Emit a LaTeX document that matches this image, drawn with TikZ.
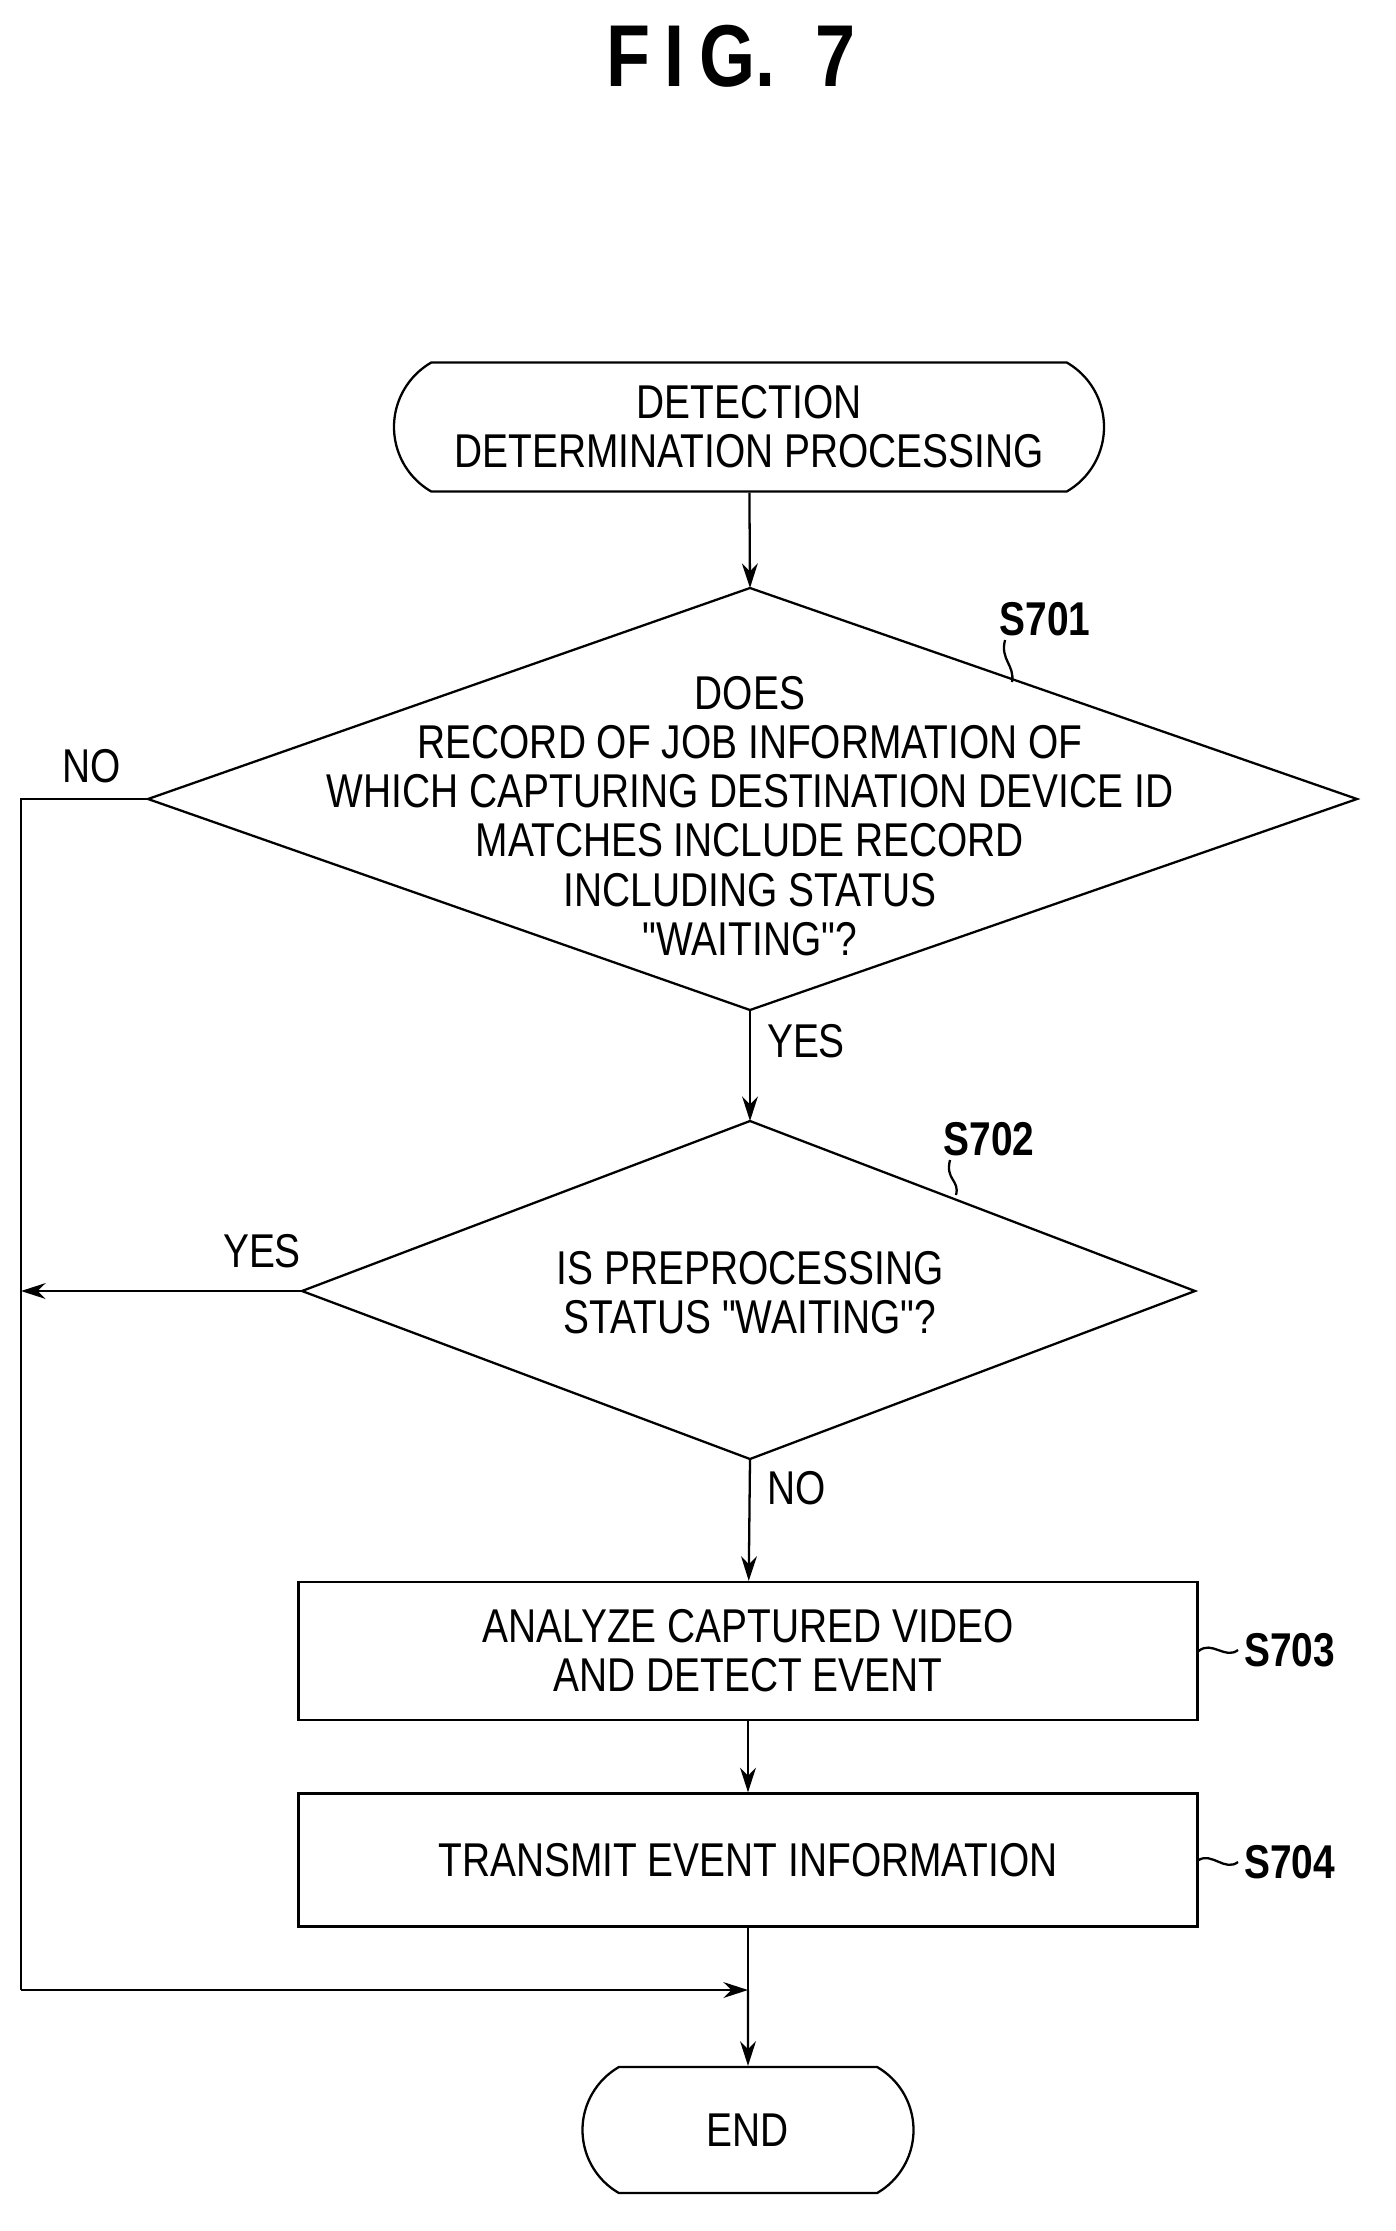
\documentclass[tikz,border=0pt]{standalone}
\usepackage{fontspec}
\setmainfont{Liberation Sans}[FakeStretch=0.82,Ligatures=TeXOff]
\usetikzlibrary{arrows.meta,shapes.misc}
\begin{document}
\begin{tikzpicture}[x=0.02cm,y=-0.02cm,
  line/.style={line width=1.3pt},
  arr/.style={line, -{Stealth[length=14pt,width=9pt]}},
  txt/.style={font=\fontsize{27}{32}\selectfont, align=center},
  lbl/.style={font=\fontsize{27}{32}\selectfont\bfseries},
  term/.style={line, draw, rounded rectangle, rounded rectangle arc length=120, minimum width=710*0.02cm, minimum height=129*0.02cm, inner xsep=0pt, txt},
  box/.style={line, draw, minimum width=899*0.02cm, txt}]
\useasboundingbox (0,0) rectangle (1396,2231);
\node[font=\fontsize{50}{60}\selectfont\bfseries] (title) at (731,56) {F\,I\,G.\ \ 7};
\node[term] (start) at (749,427) {DETECTION\\[-4pt]DETERMINATION PROCESSING};
% diamond 1
\coordinate (d1t) at (750,588); \coordinate (d1b) at (750,1010);
\coordinate (d1l) at (148,799); \coordinate (d1r) at (1357,799);
\draw[line] (d1t)--(d1r)--(d1b)--(d1l)--cycle;
\node[txt] (d1) at (750,816) {DOES\\[-4pt]RECORD OF JOB INFORMATION OF\\[-4pt]WHICH CAPTURING DESTINATION DEVICE ID\\[-4pt]MATCHES INCLUDE RECORD\\[-4pt]INCLUDING STATUS\\[-4pt]"WAITING"?};
% diamond 2
\coordinate (d2t) at (750,1121); \coordinate (d2b) at (750,1459);
\coordinate (d2l) at (302,1291); \coordinate (d2r) at (1195,1291);
\draw[line] (d2t)--(d2r)--(d2b)--(d2l)--cycle;
\node[txt] (d2) at (750,1293) {IS PREPROCESSING\\[-4pt]STATUS "WAITING"?};
\node[box, minimum height=138*0.02cm] (b3) at (748,1651) {ANALYZE CAPTURED VIDEO\\[-4pt]AND DETECT EVENT};
\node[box, minimum height=133*0.02cm] (b4) at (748,1860) {TRANSMIT EVENT INFORMATION};
\node[term, minimum width=331*0.02cm, minimum height=126*0.02cm] (end) at (748,2130) {END};
% labels
\node[lbl] (l1) at (1045,619) {S701};
\draw[line] (1005,640) .. controls (1000,660) and (1015,665) .. (1012,682);
\node[lbl] (l2) at (989,1139) {S702};
\draw[line] (950,1160) .. controls (945,1180) and (960,1180) .. (956,1195);
\node[lbl, anchor=west] (l3) at (1238,1650) {S703};
\draw[line] (b3.east) .. controls (1212,1640) and (1225,1660) .. (1238,1650);
\node[lbl, anchor=west] (l4) at (1238,1862) {S704};
\draw[line] (b4.east) .. controls (1212,1852) and (1225,1872) .. (1238,1862);
\node[txt] (no1) at (92,766) {NO};
\node[txt] (yes1) at (806,1041) {YES};
\node[txt] (yes2) at (262,1251) {YES};
\node[txt] (no2) at (797,1488) {NO};
% connectors
\coordinate (lt) at (21,799); \coordinate (lm) at (21,1291);
\coordinate (lb) at (21,1990); \coordinate (j) at (748,1990);
\draw[arr] (start) -- (d1t);
\draw[arr] (d1b) -- (d2t);
\draw[arr] (d2b) -- (b3);
\draw[arr] (b3) -- (b4);
\draw[line] (b4) -- (j);
\draw[arr] (j) -- (end);
\draw[line] (d1l) -- (lt) -- (lb);
\draw[arr] (d2l) -- (lm);
\draw[arr] (lb) -- (j);
\end{tikzpicture}
\end{document}
